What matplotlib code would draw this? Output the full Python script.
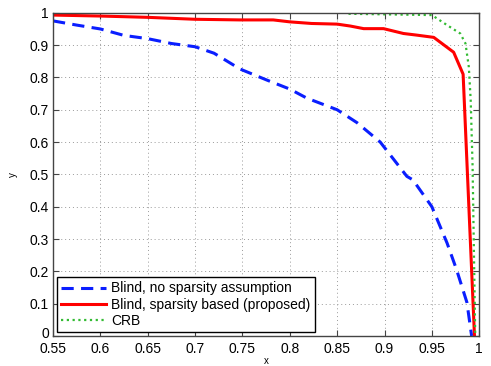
import matplotlib
matplotlib.use("Agg")
import matplotlib.pyplot as plt
import matplotlib.transforms as mtransforms

plt.rcParams["font.family"] = ["Liberation Sans", "DejaVu Sans"]

# Blind, no sparsity assumption
x_blind = [0.55, 0.575, 0.6, 0.625, 0.65, 0.675, 0.7, 0.72, 0.7475, 0.7757, 0.80,
           0.818, 0.85, 0.871, 0.8955, 0.9236, 0.93, 0.95, 0.966, 0.976, 0.987, 0.992]
y_blind = [0.975, 0.962, 0.95, 0.93, 0.92, 0.905, 0.895, 0.875, 0.826, 0.792, 0.764,
           0.736, 0.70, 0.66, 0.60, 0.494, 0.483, 0.40, 0.288, 0.206, 0.104, 0.0]

# Blind, sparsity based (proposed)
x_sparse = [0.55, 0.6, 0.65, 0.7, 0.7475, 0.7825, 0.80, 0.823, 0.85, 0.864, 0.878,
            0.899, 0.92, 0.934, 0.952, 0.973, 0.983, 0.995]
y_sparse = [0.993, 0.99, 0.986, 0.98, 0.978, 0.978, 0.972, 0.967, 0.965, 0.959, 0.951,
            0.951, 0.936, 0.931, 0.924, 0.878, 0.81, 0.0]

# CRB (visible part; at 1.0 under the top spine before this)
x_crb = [0.862, 0.95, 0.966, 0.98, 0.9855, 0.989, 0.991, 0.993, 0.9958]
y_crb = [0.997, 0.993, 0.962, 0.936, 0.905, 0.833, 0.73, 0.525, 0.0]

fig = plt.figure(figsize=(4.91, 3.66), dpi=100)
ax = fig.add_axes([0.108, 0.082, 0.868, 0.883])

ax.plot(x_blind, y_blind, color="#0a1eff", lw=2.2, ls=(0, (4, 2.4)),
        label="Blind, no sparsity assumption")
ax.plot(x_sparse, y_sparse, color="#ff0000", lw=2.2,
        label="Blind, sparsity based (proposed)")
ax.plot(x_crb, y_crb, color="#33bb33", lw=1.6, ls=(0, (1, 1.6)), label="CRB")

ax.set_xlim(0.55, 1.0)
ax.set_ylim(0, 1)
ax.set_xticks([0.55, 0.6, 0.65, 0.7, 0.75, 0.8, 0.85, 0.9, 0.95, 1.0])
ax.set_xticklabels(["0.55", "0.6", "0.65", "0.7", "0.75", "0.8", "0.85", "0.9", "0.95", "1"])
ax.set_yticks([0, 0.1, 0.2, 0.3, 0.4, 0.5, 0.6, 0.7, 0.8, 0.9, 1.0])
ax.set_yticklabels(["0", "0.1", "0.2", "0.3", "0.4", "0.5", "0.6", "0.7", "0.8", "0.9", "1"])
ax.tick_params(direction="in", top=True, right=True, labelsize=10, length=4,
               color="#444444")
ax.tick_params(axis="x", pad=4.5)
ax.tick_params(axis="y", pad=3)
ax.grid(True, ls=(0, (1, 3)), color="#999999", lw=0.7)
for s in ax.spines.values():
    s.set_color("#444444")
    s.set_linewidth(1.0)

# nudge the y "0" label up a touch so it clears the "0.55" label
lab0 = ax.get_yticklabels()[0]
lab0.set_transform(lab0.get_transform() +
                   mtransforms.ScaledTranslation(0, 2.5 / 72, fig.dpi_scale_trans))

ax.set_xlabel("x", fontsize=7, labelpad=0)
ax.set_ylabel("y", fontsize=7, labelpad=8)

leg = ax.legend(loc="lower left", fontsize=10, fancybox=False, framealpha=1,
                edgecolor="black", borderaxespad=0.3, handlelength=3.2,
                handletextpad=0.4, borderpad=0.3, labelspacing=0.15)
leg.get_frame().set_linewidth(1.0)

fig.savefig("out.png", dpi=100)
